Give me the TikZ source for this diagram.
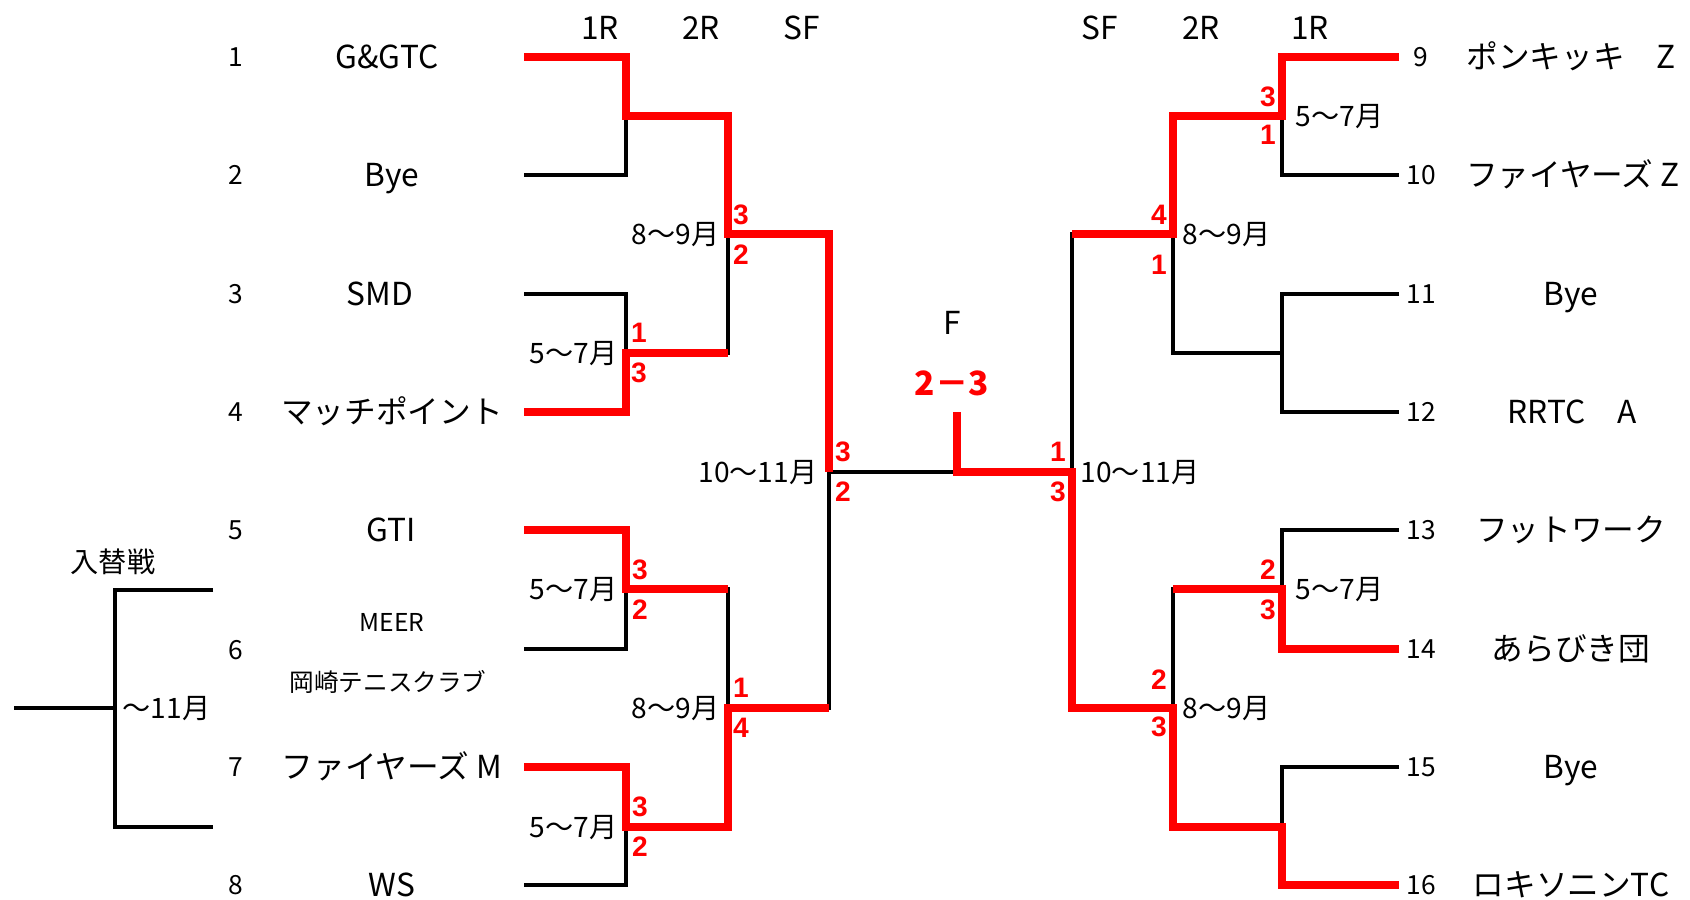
\documentclass[tikz,border=0pt]{standalone}
\usepackage{fontspec}
\setmainfont{Noto Sans CJK JP}
\newfontfamily\scorefont{Liberation Sans}
\usetikzlibrary{positioning}

\begin{document}
\begin{tikzpicture}[x=0.01cm, y=-0.01cm,
  bline/.style={black, line width=0.9pt},
  rline/.style={red, line width=2pt},
  team/.style={font=\fontsize{9}{10}\selectfont, text height=7.9pt, text depth=1.3pt},
  small/.style={font=\fontsize{7}{8}\selectfont, text height=6.2pt, text depth=1pt},
  num/.style={font=\fontsize{7.5}{9}\selectfont, text height=6.6pt, text depth=1.1pt},
  date/.style={font=\fontsize{8}{9}\selectfont, inner sep=0pt, text height=7pt, text depth=1.1pt},
  hdr/.style={font=\fontsize{9}{10}\selectfont, text height=7.9pt, text depth=1.3pt},
  score/.style={text=red, font=\scorefont\bfseries\fontsize{8}{9}\selectfont}]
  \useasboundingbox (0,0) rectangle (1690,900);

  % entry points
  \foreach \i/\y in {1/57,2/175,3/294,4/412,5/530,6/649,7/767,8/885}
    \coordinate (L\i) at (524,\y);
  \foreach \i/\y in {9/57,10/175,11/294,12/412,13/530,14/649,15/767,16/885}
    \coordinate (R\i) at (1399,\y);

  % junctions
  \coordinate (a1) at (626,116);
  \coordinate (a2) at (626,353);
  \coordinate (a3) at (626,589);
  \coordinate (a4) at (626,827);
  \coordinate (b1) at (728,234);
  \coordinate (b2) at (728,708);
  \coordinate (c1) at (829,472);
  \coordinate (f) at (957,472);
  \coordinate (fs) at (957,412);
  \coordinate (d1) at (1072,472);
  \coordinate (e1) at (1173,234);
  \coordinate (e2) at (1173,708);
  \coordinate (g1) at (1282,116);
  \coordinate (g2) at (1282,353);
  \coordinate (g3) at (1282,589);
  \coordinate (g4) at (1282,827);
  % playoff
  \coordinate (p1) at (213,590);
  \coordinate (p2) at (213,827);
  \coordinate (pj) at (115,708);
  \coordinate (p0) at (14,708);

  % bracket
  \draw[bline] (L1) -| (a1) |- (L2);
  \draw[bline] (L3) -| (a2) |- (L4);
  \draw[bline] (L5) -| (a3) |- (L6);
  \draw[bline] (L7) -| (a4) |- (L8);
  \draw[bline] (a1) -| (b1) |- (a2);
  \draw[bline] (a3) -| (b2) |- (a4);
  \draw[bline] (b1) -| (c1) |- (b2);
  \draw[bline] (c1) -- (f) -- (d1);
  \draw[bline] (R9) -| (g1) |- (R10);
  \draw[bline] (R11) -| (g2) |- (R12);
  \draw[bline] (R13) -| (g3) |- (R14);
  \draw[bline] (R15) -| (g4) |- (R16);
  \draw[bline] (g1) -| (e1) |- (g2);
  \draw[bline] (g3) -| (e2) |- (g4);
  \draw[bline] (e1) -| (d1) |- (e2);
  \draw[bline] (p1) -| (pj) |- (p2);
  \draw[bline] (p0) -- (pj);

  % winners
  \draw[rline] (L1) -| (a1) -| (b1) -| (c1);
  \draw[rline] (L4) -| (a2) -- (a2 -| b1);
  \draw[rline] (L5) -| (a3) -- (a3 -| b2);
  \draw[rline] (L7) -| (a4) -| (b2) -- (b2 -| c1);
  \draw[rline] (fs) -- (f) -- (d1) |- (e2) |- (g4) |- (R16);
  \draw[rline] (R9) -| (g1) -| (e1) -- (e1 -| d1);
  \draw[rline] (R14) -| (g3) -- (g3 -| e2);

  % rounds
  \node[hdr] (h1) at (600,28) {1R};
  \node[hdr] (h2) at (701,28) {2R};
  \node[hdr] (h3) at (802,28) {SF};
  \node[hdr] (h4) at (1100,28) {SF};
  \node[hdr] (h5) at (1201,28) {2R};
  \node[hdr] (h6) at (1310,28) {1R};

  % numbers
  \foreach \i/\y in {1/57,2/175,3/294,4/412,5/530,6/650,7/767,8/885}
    \node[num] (n\i) at (236,\y) {\i};
  \foreach \i/\y in {9/57,10/175,11/294,12/412,13/530,14/649,15/767,16/885}
    \node[num] (n\i) at (1421,\y) {\i};

  % teams
  \node[team] (t1) at (387,57) {G\&GTC};
  \node[team] (t2) at (392,175) {Bye};
  \node[team] (t3) at (380,294) {SMD};
  \node[team] (t4) at (392,412) {マッチポイント};
  \node[team] (t5) at (391,530) {GTI};
  \node[small] (t6a) at (392,622) {MEER};
  \node[small] (t6b) at (388,682) {岡崎テニスクラブ};
  \node[team] (t7) at (392,767) {ファイヤーズ M};
  \node[team] (t8) at (392,885) {WS};
  \node[team] (t9) at (1571,57) {ポンキッキ　Z};
  \node[team] (t10) at (1573,175) {ファイヤーズ Z};
  \node[team] (t11) at (1571,294) {Bye};
  \node[team] (t12) at (1572,412) {RRTC　A};
  \node[team] (t13) at (1571,530) {フットワーク};
  \node[team] (t14) at (1571,649) {あらびき団};
  \node[team] (t15) at (1571,767) {Bye};
  \node[team] (t16) at (1571,885) {ロキソニンTC};

  % dates
  \node[date, left=0.08cm of a2] (da2) {5〜7月};
  \node[date, left=0.08cm of a3] (da3) {5〜7月};
  \node[date, left=0.08cm of a4] (da4) {5〜7月};
  \node[date, left=0.08cm of b1] (db1) {8〜9月};
  \node[date, left=0.08cm of b2] (db2) {8〜9月};
  \node[date, left=0.11cm of c1] (dc1) {10〜11月};
  \node[date, right=0.13cm of g1] (dg1) {5〜7月};
  \node[date, right=0.13cm of g3] (dg3) {5〜7月};
  \node[date, right=0.09cm of e1] (de1) {8〜9月};
  \node[date, right=0.09cm of e2] (de2) {8〜9月};
  \node[date, right=0.08cm of d1] (dd1) {10〜11月};

  % scores
  \node[score] (s1) at (741,215) {3};
  \node[score] (s2) at (741,255) {2};
  \node[score] (s3) at (639,333) {1};
  \node[score] (s4) at (639,373) {3};
  \node[score] (s5) at (843,452) {3};
  \node[score] (s6) at (843,492) {2};
  \node[score] (s7) at (640,570) {3};
  \node[score] (s8) at (640,610) {2};
  \node[score] (s9) at (741,688) {1};
  \node[score] (s10) at (741,728) {4};
  \node[score] (s11) at (640,807) {3};
  \node[score] (s12) at (640,847) {2};
  \node[score] (s13) at (1268,97) {3};
  \node[score] (s14) at (1268,135) {1};
  \node[score] (s15) at (1159,215) {4};
  \node[score] (s16) at (1159,265) {1};
  \node[score] (s17) at (1058,452) {1};
  \node[score] (s18) at (1058,492) {3};
  \node[score] (s19) at (1268,570) {2};
  \node[score] (s20) at (1268,610) {3};
  \node[score] (s21) at (1159,680) {2};
  \node[score] (s22) at (1159,727) {3};

  % final
  \node[hdr] (fl) at (952,323) {F};
  \node[text=red, font=\bfseries\fontsize{9.5}{11}\selectfont] (fscore) at (952,383) {2－3};

  % playoff
  \node[date] (pl) at (113,562) {入替戦};
  \node[date, right=0.07cm of pj] (pd) {〜11月};
\end{tikzpicture}
\end{document}
